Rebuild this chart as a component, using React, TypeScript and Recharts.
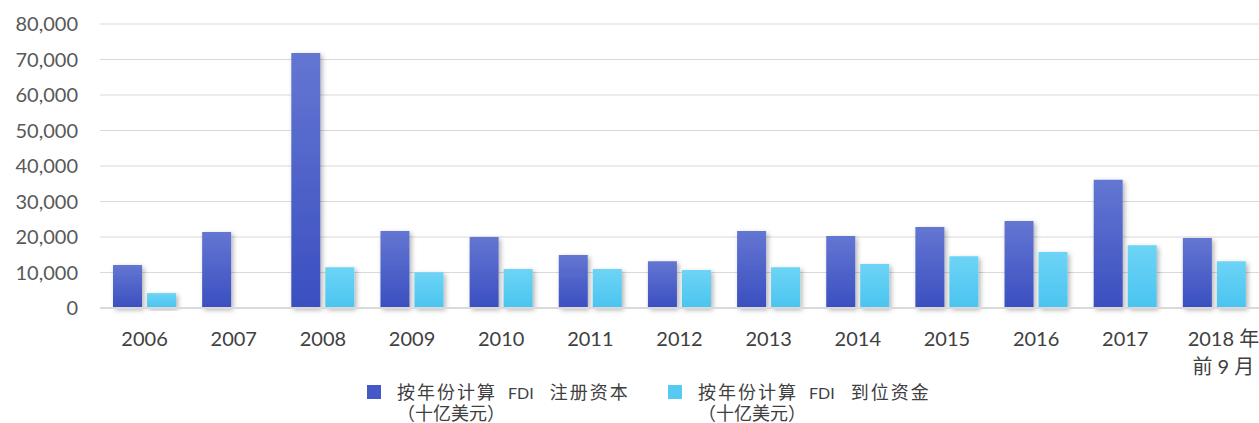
import { BarChart, Bar, XAxis, YAxis, CartesianGrid, Legend } from 'recharts';

const years = ['2006', '2007', '2008', '2009', '2010', '2011', '2012', '2013', '2014', '2015', '2016', '2017', '2018 年|前 9 月'];
const registered = [12100, 21400, 71800, 21700, 20000, 14900, 13200, 21700, 20300, 22800, 24500, 36100, 19700];
const arrived = [4200, null, 11500, 10100, 11000, 11000, 10700, 11500, 12400, 14600, 15800, 17700, 13200];
const yTicks = [0, 10000, 20000, 30000, 40000, 50000, 60000, 70000, 80000];
const seriesNames = [['按年份计算', 'FDI', '注册资本'], ['按年份计算', 'FDI', '到位资金']];

const data = years.map((y, i) => ({ year: y, registered: registered[i], arrived: arrived[i] }));

const font = 'Lato, "Noto Sans CJK SC", sans-serif';

function XTick(props: any) {
  const { x, y, payload } = props;
  const lines = String(payload.value).split('|');
  return (
    <g transform={`translate(${x},${y})`}>
      {lines.map((l, i) => (
        <text key={i} x={lines.length > 1 ? 9 : 0} y={i * 28 + 30} textAnchor="middle"
          fill="#404040" fontSize={20} fontFamily={font}>{l}</text>
      ))}
    </g>
  );
}

function LegendBox() {
  const items = [
    { color: '#4558c8', left: 367, name: seriesNames[0] },
    { color: '#55caf2', left: 668, name: seriesNames[1] },
  ];
  return (
    <div style={{ position: 'relative', height: 50, fontFamily: font, color: '#404040', fontSize: 18 }}>
      {items.map((it) => (
        <div key={it.left}>
          <div style={{ position: 'absolute', left: it.left, top: 12, width: 14, height: 14, background: it.color }} />
          <div style={{ position: 'absolute', left: it.left + 30, top: 8, whiteSpace: 'pre', lineHeight: '22px' }}>
            <span style={{ letterSpacing: 2 }}>{it.name[0]}</span>
            <span style={{ marginLeft: 11, fontSize: 16 }}>{it.name[1]}</span>
            <span style={{ marginLeft: 16, letterSpacing: 2 }}>{it.name[2]}</span>
          </div>
          <div style={{ position: 'absolute', left: it.left + 30, top: 29, whiteSpace: 'pre', lineHeight: '22px' }}>
            （十亿美元）
          </div>
        </div>
      ))}
    </div>
  );
}

export default function App() {
  return (
    <div style={{ width: 1259, height: 423, background: '#fff' }}>
      <style>{'body{margin:0}'}</style>
      <BarChart width={1259} height={423} data={data}
        margin={{ top: 24, right: 0, left: 0, bottom: 0 }}
        barCategoryGap={13} barGap={5}>
        <defs>
          <linearGradient id="gBlue" x1="0" y1="0" x2="0" y2="1">
            <stop offset="0%" stopColor="#6476d2" />
            <stop offset="100%" stopColor="#3a4fc0" />
          </linearGradient>
          <linearGradient id="gCyan" x1="0" y1="0" x2="0" y2="1">
            <stop offset="0%" stopColor="#6dd4f6" />
            <stop offset="100%" stopColor="#4ac4ef" />
          </linearGradient>
          <filter id="shadow" x="-30%" y="-10%" width="160%" height="130%">
            <feDropShadow dx="2" dy="2" stdDeviation="2.5" floodColor="#000" floodOpacity="0.3" />
          </filter>
        </defs>
        <CartesianGrid vertical={false} stroke="#d9d9d9" strokeWidth={1} />
        <XAxis dataKey="year" tick={<XTick />} tickLine={false} axisLine={{ stroke: '#d9d9d9', strokeWidth: 2 }}
          height={65} interval={0} />
        <YAxis width={100} domain={[0, 80000]} ticks={yTicks} tickLine={false} axisLine={false}
          tickMargin={16} tickFormatter={(v: number) => v.toLocaleString('en-US')}
          tick={{ fill: '#595959', fontSize: 20, fontFamily: font }} />
        <Legend verticalAlign="bottom" height={50} content={<LegendBox />} />
        <Bar dataKey="registered" name={seriesNames[0].join(' ')} fill="url(#gBlue)" filter="url(#shadow)" isAnimationActive={false} />
        <Bar dataKey="arrived" name={seriesNames[1].join(' ')} fill="url(#gCyan)" filter="url(#shadow)" isAnimationActive={false} />
      </BarChart>
    </div>
  );
}
